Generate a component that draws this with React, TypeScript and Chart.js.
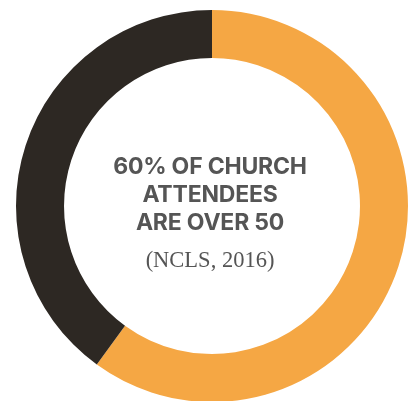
import React, { useEffect, useRef } from "react";
import { Chart, registerables } from "chart.js";

Chart.register(...registerables);

const categories = ["Over 50", "50 and under"];
const values = [60, 40];
const colors = ["#F5A744", "#2D2823"];
const titleLines = ["60% OF CHURCH", "ATTENDEES", "ARE OVER 50"];
const sourceText = "(NCLS, 2016)";

export default function App() {
  const ref = useRef<HTMLCanvasElement | null>(null);
  useEffect(() => {
    if (!ref.current) return;
    const chart = new Chart(ref.current, {
      type: "doughnut",
      data: {
        labels: categories,
        datasets: [
          {
            data: values,
            backgroundColor: colors,
            borderWidth: 0,
          },
        ],
      },
      options: {
        animation: false,
        responsive: false,
        cutout: "75.5%",
        rotation: 0,
        layout: { padding: 0 },
        plugins: {
          legend: { display: false },
          tooltip: { enabled: false },
        },
      },
    });
    return () => chart.destroy();
  }, []);

  return (
    <div style={{ position: "absolute", left: 0, top: 0, width: 411, height: 401, overflow: "hidden", background: "#fff" }}>
      <canvas
        ref={ref}
        width={392}
        height={392}
        style={{ position: "absolute", left: 16, top: 10, width: 392, height: 392 }}
      />
      <div
        style={{
          position: "absolute",
          left: 60,
          width: 300,
          top: 152,
          textAlign: "center",
          color: "#555555",
          fontFamily: "Inter, 'Noto Sans', sans-serif",
          fontWeight: 700,
          fontSize: 23,
          lineHeight: "28px",
          letterSpacing: "-0.2px",
        }}
      >
        {titleLines.map((l, i) => (
          <div key={i}>{l}</div>
        ))}
      </div>
      <div
        style={{
          position: "absolute",
          left: 60,
          width: 300,
          top: 247,
          textAlign: "center",
          color: "#555555",
          fontFamily: "'Liberation Serif', 'DejaVu Serif', serif",
          fontSize: 22.5,
          lineHeight: "26px",
        }}
      >
        {sourceText}
      </div>
    </div>
  );
}
